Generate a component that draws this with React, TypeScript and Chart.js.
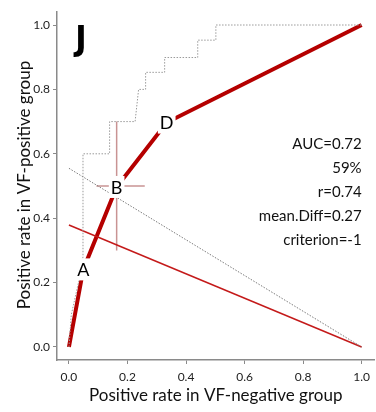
import React, { useEffect, useRef } from 'react';
import { Chart, registerables } from 'chart.js';

Chart.register(...registerables);

// ---- data ----
const tickValues = [0, 0.2, 0.4, 0.6, 0.8, 1.0];

// fitted ROC curve (thick red) with operating points
const rocX = [0, 0.049, 0.163, 0.334, 1.0];
const rocY = [0, 0.241, 0.497, 0.697, 1.0];
const rocLabels = ['', 'A', 'B', 'D', ''];

// empirical ROC (dotted grey step line)
const stepX = [0, 0.008, 0.037, 0.048, 0.048, 0.139, 0.139, 0.226, 0.238, 0.262, 0.262, 0.327, 0.327, 0.44, 0.44, 0.502, 0.502, 1.0];
const stepY = [0, 0.10, 0.218, 0.28, 0.60, 0.60, 0.70, 0.70, 0.80, 0.80, 0.853, 0.853, 0.899, 0.899, 0.953, 0.953, 1.0, 1.0];

// iso line through B (grey dotted)
const isoX = [0, 1.0];
const isoY = [0.555, 0];

// thin red line
const redLineX = [0, 1.0];
const redLineY = [0.379, 0];

// crosshair at B
const crossVX = [0.163, 0.163];
const crossVY = [0.30, 0.70];
const crossHX = [0.094, 0.259];
const crossHY = [0.50, 0.50];

const statLines = ['AUC=0.72', '59%', 'r=0.74', 'mean.Diff=0.27', 'criterion=-1'];
const panelLetter = 'J';
const xTitle = 'Positive rate in VF-negative group';
const yTitle = 'Positive rate in VF-positive group';

const pts = (xs: number[], ys: number[]) => xs.map((v, i) => ({ x: v, y: ys[i] }));

const FONT = 'Lato, "Open Sans", sans-serif';

const overlay = {
  id: 'overlay',
  afterDatasetsDraw(chart: any) {
    const { ctx, chartArea } = chart;
    const x = chart.scales.x;
    const y = chart.scales.y;
    ctx.save();
    // point labels with white background
    ctx.font = `18px ${FONT}`;
    ctx.textAlign = 'center';
    ctx.textBaseline = 'middle';
    rocLabels.forEach((l, i) => {
      if (!l) return;
      const px = x.getPixelForValue(rocX[i]);
      const py = y.getPixelForValue(rocY[i]);
      const w = ctx.measureText(l).width + 4;
      ctx.fillStyle = '#ffffff';
      ctx.fillRect(px - w / 2, py - 11, w, 22);
      ctx.fillStyle = '#000000';
      ctx.fillText(l, px, py + 1);
    });
    // stats text
    ctx.font = `15px ${FONT}`;
    ctx.textAlign = 'right';
    ctx.fillStyle = '#111111';
    const sx = x.getPixelForValue(1.0);
    const sy = y.getPixelForValue(0.63);
    statLines.forEach((s, i) => {
      ctx.fillText(s, sx, sy + i * 24);
    });
    // panel letter
    ctx.font = `bold 34px "DejaVu Sans Condensed", "DejaVu Sans", sans-serif`;
    ctx.textAlign = 'center';
    ctx.textBaseline = 'alphabetic';
    ctx.fillStyle = '#000000';
    ctx.fillText(panelLetter, 81, 50);
    // axis titles
    ctx.font = `17px ${FONT}`;
    ctx.fillStyle = '#111111';
    ctx.textBaseline = 'middle';
    ctx.textAlign = 'center';
    ctx.fillText(xTitle, (chartArea.left + chartArea.right) / 2, 396);
    ctx.translate(25, (chartArea.top + chartArea.bottom) / 2 - 1);
    ctx.rotate(-Math.PI / 2);
    ctx.fillText(yTitle, 0, 0);
    ctx.restore();
  },
};

export default function App() {
  const ref = useRef<HTMLCanvasElement | null>(null);
  useEffect(() => {
    if (!ref.current) return;
    const line = (data: any, color: string, width: number, dash: number[] = []) => ({
      data,
      borderColor: color,
      borderWidth: width,
      borderDash: dash,
      showLine: true,
      pointRadius: 0,
      fill: false,
      tension: 0,
    });
    const axisCommon = (isX: boolean) => ({
      type: 'linear' as const,
      min: isX ? -0.0408 : -0.0404,
      max: isX ? 1.044 : 1.0404,
      border: { display: true, color: '#8a8a8a', width: 1.5 },
      grid: { display: true, drawOnChartArea: false, drawTicks: true, tickLength: 4, color: '#8a8a8a', tickWidth: 1 },
      ticks: {
        font: { family: FONT, size: 12 },
        color: '#222222',
        padding: isX ? 6 : 3,
        maxRotation: 0,
        autoSkip: false,
        callback: (v: any) => Number(v).toFixed(1),
      },
      afterBuildTicks: (scale: any) => {
        scale.ticks = tickValues.map((v) => ({ value: v }));
      },
      afterFit: (scale: any) => {
        if (isX) scale.height = 52;
        else scale.width = 57;
      },
    });
    const chart = new Chart(ref.current, {
      type: 'scatter',
      data: {
        datasets: [
          line(pts(stepX, stepY), '#9a9a9a', 1, [1.5, 1.5]),
          line(pts(isoX, isoY), '#7a7a7a', 1, [1.5, 1.5]),
          line(pts(redLineX, redLineY), '#c41a1a', 1.5),
          line(pts(crossVX, crossVY), '#c99393', 1.5),
          line(pts(crossHX, crossHY), '#c99393', 1.5),
          line(pts(rocX, rocY), '#b50000', 4),
        ] as any,
      },
      options: {
        animation: false,
        responsive: true,
        maintainAspectRatio: false,
        layout: { padding: { top: 12, left: 0, right: 0, bottom: 0 } },
        plugins: { legend: { display: false }, tooltip: { enabled: false }, title: { display: false } },
        scales: {
          x: axisCommon(true) as any,
          y: axisCommon(false) as any,
        },
      },
      plugins: [overlay],
    });
    return () => chart.destroy();
  }, []);
  return (
    <div style={{ position: 'fixed', left: 0, top: 0, width: 376, height: 412, background: '#fff' }}>
      <canvas ref={ref} />
    </div>
  );
}
